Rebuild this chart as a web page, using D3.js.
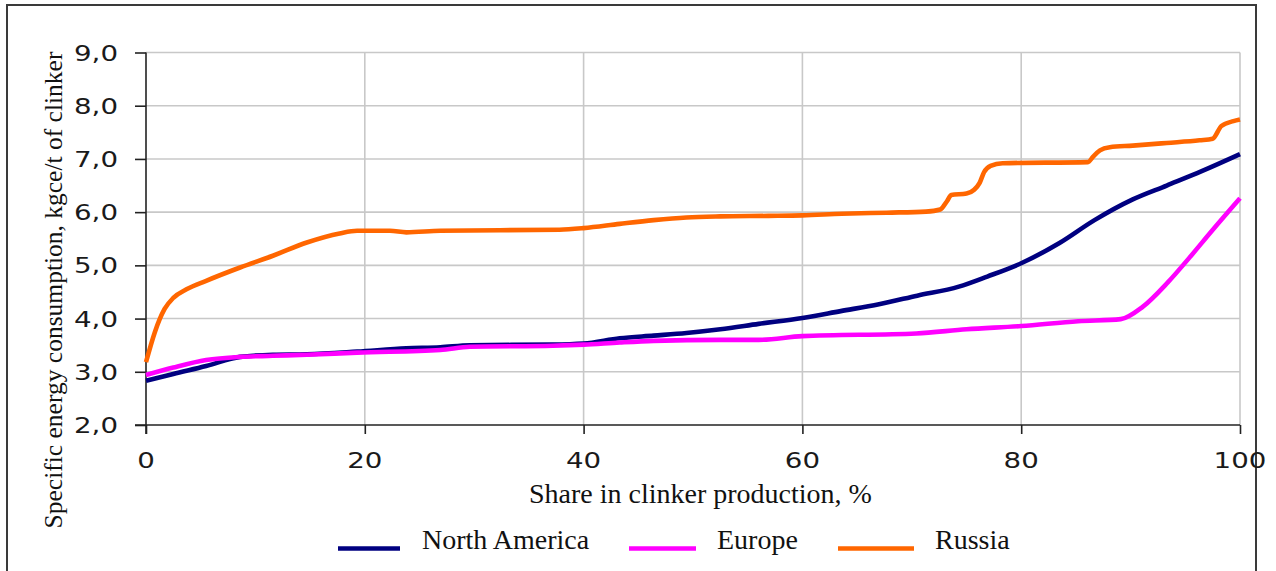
<!DOCTYPE html>
<html>
<head>
<meta charset="utf-8">
<script src="https://cdn.jsdelivr.net/npm/d3@7/dist/d3.min.js"></script>
<style>
  html, body { margin: 0; padding: 0; background: #fff; }
  svg { display: block; }
</style>
</head>
<body>
<svg id="chart" width="1276" height="571"></svg>
<script>
// Share in clinker production (%) vs specific energy consumption (kgce/t of clinker)
const naShare = [0, 2.5, 5.5, 8.6, 11.6, 14.7, 19.3, 23.8, 26.9, 29.6, 37.2, 40, 43.3, 46.4, 49.4, 52.5, 56, 60, 63.5, 67, 70.5, 74.3, 76.9, 80, 83.5, 86.7, 90.2, 93.3, 96.5, 100];
const naValue = [2.83, 2.96, 3.11, 3.28, 3.32, 3.33, 3.38, 3.44, 3.46, 3.5, 3.51, 3.53, 3.63, 3.68, 3.73, 3.8, 3.9, 4.01, 4.14, 4.27, 4.43, 4.6, 4.79, 5.04, 5.42, 5.85, 6.24, 6.5, 6.77, 7.09];

const euShare = [0, 2.5, 5.5, 8.6, 11.6, 14.7, 19.3, 26.9, 29.6, 37.2, 40, 43.3, 46.4, 52.5, 56, 60, 70.4, 75, 80, 85.2, 89.1, 91.1, 93.4, 95.4, 97.4, 100];
const euValue = [2.94, 3.08, 3.22, 3.28, 3.3, 3.32, 3.36, 3.41, 3.47, 3.49, 3.51, 3.55, 3.58, 3.6, 3.6, 3.67, 3.72, 3.8, 3.86, 3.95, 3.99, 4.22, 4.68, 5.15, 5.64, 6.26];

const ruShare = [0, 0.8, 1.7, 2.5, 3.7, 5.5, 8.6, 11.6, 14.7, 17.7, 19.3, 22.3, 23.8, 26.9, 37.8, 40, 43.3, 46.4, 49.4, 52.5, 56.9, 60, 63.6, 67.7, 71.3, 72.6, 73.2, 73.6, 75, 75.7, 76.2, 76.6, 77.2, 78.3, 86.1, 86.6, 87.2, 88.1, 90.2, 93.3, 96.3, 97.5, 98.3, 99.4, 100];
const ruValue = [3.18, 3.74, 4.18, 4.39, 4.55, 4.71, 4.96, 5.18, 5.43, 5.6, 5.65, 5.65, 5.62, 5.65, 5.67, 5.7, 5.78, 5.85, 5.9, 5.92, 5.93, 5.94, 5.97, 5.99, 6.01, 6.05, 6.2, 6.32, 6.35, 6.42, 6.55, 6.75, 6.87, 6.92, 6.94, 7.05, 7.16, 7.22, 7.25, 7.3, 7.35, 7.38, 7.62, 7.71, 7.74];

const seriesNames = ["North America", "Europe", "Russia"];
const seriesColors = ["#000080", "#ff00ff", "#ff6600"];

const xTicks = [0, 20, 40, 60, 80, 100];
const yTicks = [2, 3, 4, 5, 6, 7, 8, 9];
const yTickLabels = ["2,0", "3,0", "4,0", "5,0", "6,0", "7,0", "8,0", "9,0"];

const xTitle = "Share in clinker production, %";
const yTitle = "Specific energy consumption, kgce/t of clinker";

const svg = d3.select("#chart");
const plot = { left: 146, right: 1240, top: 52.5, bottom: 425 };

const x = d3.scaleLinear().domain([0, 100]).range([plot.left, plot.right]);
const y = d3.scaleLinear().domain([2, 9]).range([plot.bottom, plot.top]);

// outer frame
svg.append("rect")
  .attr("x", 7).attr("y", 5)
  .attr("width", 1249).attr("height", 590)
  .attr("fill", "none").attr("stroke", "#3a3a3a").attr("stroke-width", 2);

// grid
const grid = svg.append("g").attr("stroke", "#c8c8c8").attr("stroke-width", 1.6);
grid.selectAll(".gy").data(yTicks.filter(d => d > 2)).join("line")
  .attr("x1", plot.left).attr("x2", plot.right)
  .attr("y1", d => y(d)).attr("y2", d => y(d));
grid.selectAll(".gx").data(xTicks.filter(d => d > 0)).join("line")
  .attr("y1", plot.top).attr("y2", plot.bottom)
  .attr("x1", d => x(d)).attr("x2", d => x(d));

// axes
const yAxis = d3.axisLeft(y).tickValues(yTicks).tickSize(11).tickFormat(() => "");
const xAxis = d3.axisBottom(x).tickValues(xTicks).tickSize(9).tickFormat(() => "");
const gy = svg.append("g").attr("transform", `translate(${plot.left},0)`).call(yAxis);
const gx = svg.append("g").attr("transform", `translate(0,${plot.bottom})`).call(xAxis);
[gx, gy].forEach(g => {
  g.select(".domain").remove();
  g.selectAll(".tick line").attr("stroke", "#222").attr("stroke-width", 1.6);
});
svg.append("line").attr("x1", plot.left).attr("x2", plot.left)
  .attr("y1", plot.top).attr("y2", plot.bottom + 9)
  .attr("stroke", "#222").attr("stroke-width", 1.6);
svg.append("line").attr("x1", plot.left - 11).attr("x2", plot.right)
  .attr("y1", plot.bottom).attr("y2", plot.bottom)
  .attr("stroke", "#222").attr("stroke-width", 1.6);

// tick labels (wide sans digits)
const tickFont = "'DejaVu Sans', Verdana, sans-serif";
svg.append("g").selectAll("text").data(yTicks).join("text")
  .attr("transform", d => `translate(118,${y(d) + 8}) scale(1.35,1)`)
  .attr("text-anchor", "end")
  .attr("font-family", tickFont).attr("font-size", 20.5).attr("fill", "#1a1a1a")
  .text((d, i) => yTickLabels[i]);
svg.append("g").selectAll("text").data(xTicks).join("text")
  .attr("transform", d => `translate(${x(d)},468) scale(1.35,1)`)
  .attr("text-anchor", "middle")
  .attr("font-family", tickFont).attr("font-size", 20.5).attr("fill", "#1a1a1a")
  .text(d => d);

// titles
const serif = "'Liberation Serif', 'Times New Roman', serif";
svg.append("text")
  .attr("x", 529).attr("y", 503)
  .attr("font-family", serif).attr("font-size", 28).attr("fill", "#111")
  .text(xTitle);
svg.append("text")
  .attr("transform", "translate(62,290) rotate(-90)")
  .attr("text-anchor", "middle")
  .attr("font-family", serif).attr("font-size", 25.5).attr("fill", "#111")
  .text(yTitle);

// series lines
const series = [
  { share: naShare, value: naValue },
  { share: euShare, value: euValue },
  { share: ruShare, value: ruValue }
];
const line = d3.line()
  .x(d => x(d[0])).y(d => y(d[1]))
  .curve(d3.curveMonotoneX);
// drawn so that Europe sits over North America, Russia on top
[0, 1, 2].forEach(i => {
  const s = series[i];
  svg.append("path")
    .datum(s.share.map((v, k) => [v, s.value[k]]))
    .attr("d", line)
    .attr("fill", "none")
    .attr("stroke", seriesColors[i])
    .attr("stroke-width", 4.6)
    .attr("stroke-linejoin", "round");
});

// legend
const legendLine = [[338, 400], [629, 696], [838, 914]];
const legendText = [422, 717, 935];
const lg = svg.append("g");
seriesNames.forEach((name, i) => {
  lg.append("line")
    .attr("x1", legendLine[i][0]).attr("x2", legendLine[i][1])
    .attr("y1", 548.5).attr("y2", 548.5)
    .attr("stroke", seriesColors[i]).attr("stroke-width", 4.6);
  lg.append("text")
    .attr("x", legendText[i]).attr("y", 549)
    .attr("font-family", serif).attr("font-size", 28).attr("fill", "#111")
    .text(name);
});
</script>
</body>
</html>
